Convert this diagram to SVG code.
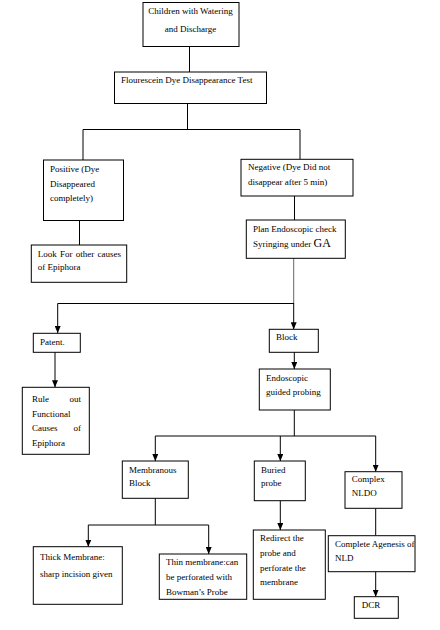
<svg xmlns="http://www.w3.org/2000/svg" width="440" height="630" viewBox="0 0 440 630">
<defs>
<style>
.box{fill:#fff;stroke:#000;stroke-width:1}
.ln{fill:none;stroke:#000;stroke-width:1}
.ar{fill:none;stroke:#000;stroke-width:1;marker-end:url(#ad)}
text{font-family:"Liberation Serif","Times New Roman",serif;font-size:9px;fill:#000}
.c{text-anchor:middle}
.e{text-anchor:end}
</style>
<marker id="ad" viewBox="0 0 6 7" refX="3" refY="7" markerWidth="6" markerHeight="7" markerUnits="userSpaceOnUse">
<path d="M0,0 L6,0 L3,7 Z" fill="#000"/>
</marker>
</defs>
<rect width="440" height="630" fill="#fff"/>
<g id="connectors">
<path class="ln" d="M189.5,46 V72"/>
<path class="ln" d="M187.5,103 V129.5"/>
<path class="ln" d="M83,129.5 H300"/>
<path class="ln" d="M83,129.5 V160"/>
<path class="ln" d="M300,129.5 V159"/>
<path class="ln" d="M79.5,220 V245"/>
<path class="ln" d="M294.5,196 V220"/>
<path class="ln" style="stroke:#666" d="M293.7,258 V304"/>
<path class="ln" d="M57.7,303.5 H294"/>
<path class="ar" d="M57.7,303.5 V333"/>
<path class="ar" d="M293.7,303.5 V329.3"/>
<path class="ar" d="M55,352 V387.3"/>
<path class="ar" d="M294.3,352 V369"/>
<path class="ln" d="M294.3,410 V436"/>
<path class="ln" d="M155.3,436 H375.7"/>
<path class="ar" d="M155.3,436 V461"/>
<path class="ar" d="M280.3,436 V461"/>
<path class="ar" d="M375.7,436 V471.7"/>
<path class="ln" d="M155.3,498 V525"/>
<path class="ln" d="M88.3,525 H208.7"/>
<path class="ar" d="M88.3,525 V546.7"/>
<path class="ar" d="M208.7,525 V554"/>
<path class="ar" d="M280.3,500.7 V530"/>
<path class="ln" d="M375.7,508.3 V535.7"/>
<path class="ar" d="M375.7,571.7 V596.7"/>
</g>
<g id="n1"><rect class="box" x="143" y="2.5" width="96" height="44"/>
<text class="c" x="190.5" y="14">Children with Watering</text>
<text class="c" x="190.5" y="32">and Discharge</text></g>
<g id="n2"><rect class="box" x="114.5" y="72" width="152" height="31.5"/>
<text x="121" y="83">Flourescein Dye Disappearance Test</text></g>
<g id="n3"><rect class="box" x="43.5" y="160" width="80" height="60.5"/>
<text x="50" y="172">Positive (Dye</text>
<text x="50" y="187">Disappeared</text>
<text x="50" y="201">completely)</text></g>
<g id="n4"><rect class="box" x="241" y="159.3" width="112" height="36.7"/>
<text x="248" y="170">Negative (Dye Did not</text>
<text x="248" y="185">disappear after 5 min)</text></g>
<g id="n5"><rect class="box" x="31.3" y="245" width="95.4" height="37.3"/>
<text x="37.7" y="257" style="word-spacing:1px">Look For other causes</text>
<text x="37.7" y="270">of Epiphora</text></g>
<g id="n6"><rect class="box" x="246.3" y="220" width="99" height="38.3"/>
<text x="253" y="232">Plan Endoscopic check</text>
<text x="253" y="247">Syringing under <tspan style="font-size:12px">GA</tspan></text></g>
<g id="n7"><rect class="box" x="33.3" y="333.3" width="47" height="19"/>
<text x="40" y="345">Patent.</text></g>
<g id="n8"><rect class="box" x="269.3" y="329.3" width="49" height="23"/>
<text x="276" y="340">Block</text></g>
<g id="n9"><rect class="box" x="22.3" y="387.3" width="67" height="67"/>
<text x="32" y="402">Rule</text><text class="e" x="81" y="402">out</text>
<text x="32" y="417">Functional</text>
<text x="32" y="431">Causes</text><text class="e" x="81" y="431">of</text>
<text x="32" y="446">Epiphora</text></g>
<g id="n10"><rect class="box" x="259.3" y="369" width="71" height="41"/>
<text x="266" y="381">Endoscopic</text>
<text x="266" y="395">guided probing</text></g>
<g id="n11"><rect class="box" x="122.3" y="461" width="66" height="37.3"/>
<text x="129" y="473">Membranous</text>
<text x="129" y="486">Block</text></g>
<g id="n12"><rect class="box" x="254.3" y="461" width="51" height="39.7"/>
<text x="261" y="473">Buried</text>
<text x="261" y="486">probe</text></g>
<g id="n13"><rect class="box" x="345" y="471.7" width="57" height="36.6"/>
<text x="351.7" y="482">Complex</text>
<text x="351.7" y="496">NLDO</text></g>
<g id="n14"><rect class="box" x="33.3" y="546.7" width="89" height="57.6"/>
<text x="40" y="560">Thick Membrane:</text>
<text x="40" y="577">sharp incision given</text></g>
<g id="n15"><rect class="box" x="159.3" y="554" width="87.4" height="45.3"/>
<text x="166" y="565">Thin membrane:can</text>
<text x="166" y="580">be perforated with</text>
<text x="166" y="594.5">Bowman’s Probe</text></g>
<g id="n16"><rect class="box" x="253.3" y="530" width="72" height="69.3"/>
<text x="260" y="541">Redirect the</text>
<text x="260" y="556">probe and</text>
<text x="260" y="571">perforate the</text>
<text x="260" y="585">membrane</text></g>
<g id="n17"><rect class="box" x="328.3" y="535.7" width="86.7" height="36"/>
<text x="335" y="547">Complete Agenesis of</text>
<text x="335" y="561">NLD</text></g>
<g id="n18"><rect class="box" x="354.3" y="596.7" width="44" height="21.6"/>
<text x="361.7" y="607.5">DCR</text></g>
</svg>
